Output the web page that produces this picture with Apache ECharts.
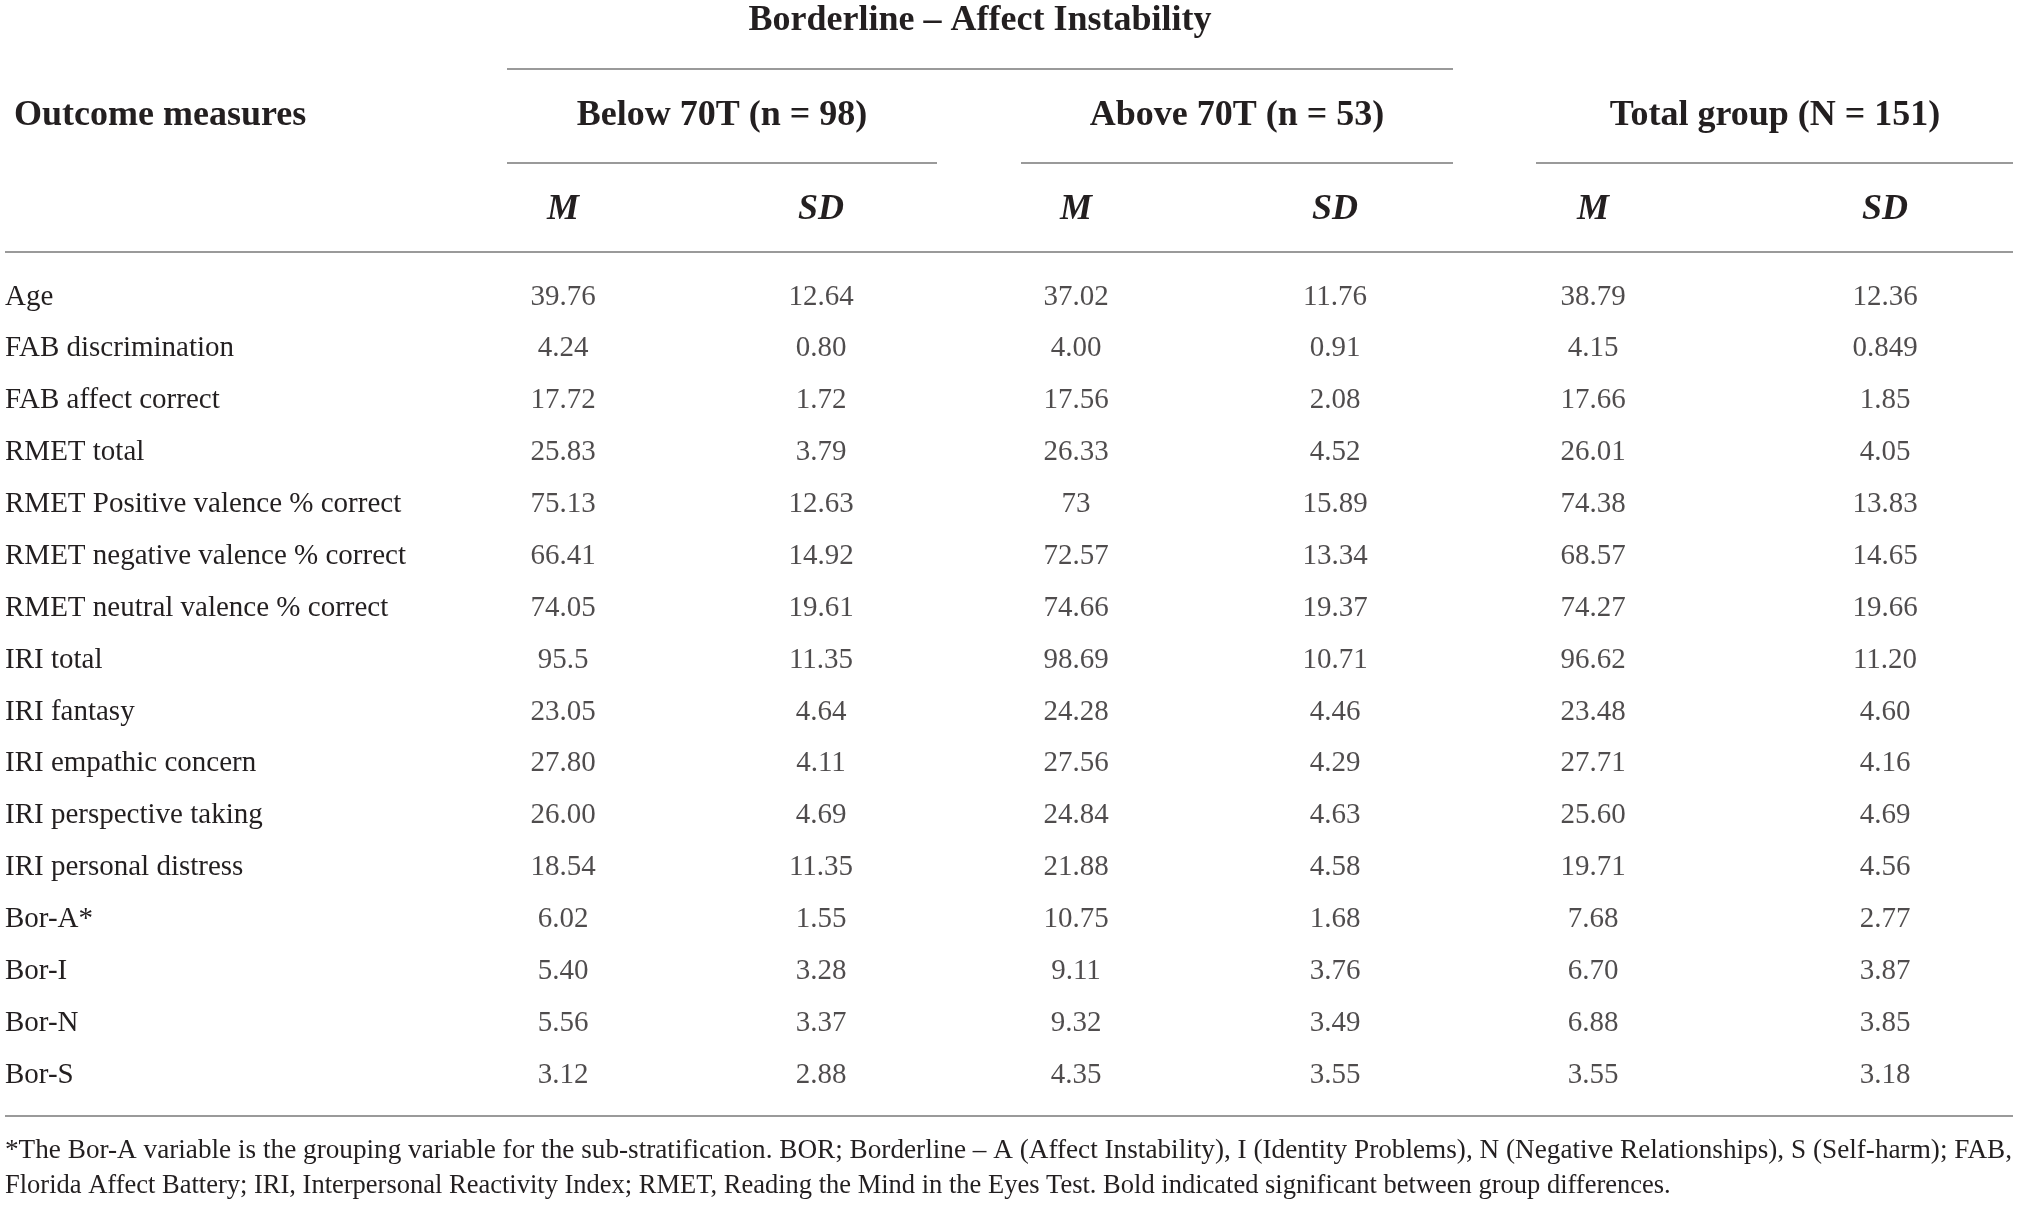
<!DOCTYPE html>
<html>
<head>
<meta charset="utf-8">
<title>Borderline – Affect Instability</title>
<script src="https://cdn.jsdelivr.net/npm/echarts@6.0.0/dist/echarts.min.js"></script>
<style>
  html, body { margin: 0; padding: 0; background: #fff; }
  #main { width: 2019px; height: 1206px; }
</style>
</head>
<body>
<div id="main"></div>
<script>
// table content
const rowNames = [
  'Age', 'FAB discrimination', 'FAB affect correct', 'RMET total',
  'RMET Positive valence % correct', 'RMET negative valence % correct',
  'RMET neutral valence % correct', 'IRI total', 'IRI fantasy',
  'IRI empathic concern', 'IRI perspective taking', 'IRI personal distress',
  'Bor-A*', 'Bor-I', 'Bor-N', 'Bor-S'
];
const statNames = ['M', 'SD'];
const groupNames = ['Below 70T (n = 98)', 'Above 70T (n = 53)', 'Total group (N = 151)'];

const belowM  = ['39.76', '4.24', '17.72', '25.83', '75.13', '66.41', '74.05', '95.5', '23.05', '27.80', '26.00', '18.54', '6.02', '5.40', '5.56', '3.12'];
const belowSD = ['12.64', '0.80', '1.72', '3.79', '12.63', '14.92', '19.61', '11.35', '4.64', '4.11', '4.69', '11.35', '1.55', '3.28', '3.37', '2.88'];
const aboveM  = ['37.02', '4.00', '17.56', '26.33', '73', '72.57', '74.66', '98.69', '24.28', '27.56', '24.84', '21.88', '10.75', '9.11', '9.32', '4.35'];
const aboveSD = ['11.76', '0.91', '2.08', '4.52', '15.89', '13.34', '19.37', '10.71', '4.46', '4.29', '4.63', '4.58', '1.68', '3.76', '3.49', '3.55'];
const totalM  = ['38.79', '4.15', '17.66', '26.01', '74.38', '68.57', '74.27', '96.62', '23.48', '27.71', '25.60', '19.71', '7.68', '6.70', '6.88', '3.55'];
const totalSD = ['12.36', '0.849', '1.85', '4.05', '13.83', '14.65', '19.66', '11.20', '4.60', '4.16', '4.69', '4.56', '2.77', '3.87', '3.85', '3.18'];

const title = 'Borderline – Affect Instability';
const stubHead = 'Outcome measures';
const footnote = [
  '*The Bor-A variable is the grouping variable for the sub-stratification. BOR; Borderline – A (Affect Instability), I (Identity Problems), N (Negative Relationships), S (Self-harm); FAB,',
  'Florida Affect Battery; IRI, Interpersonal Reactivity Index; RMET, Reading the Mind in the Eyes Test. Bold indicated significant between group differences.'
];

const FONT = '"Liberation Serif", "Times New Roman", serif';
const INK = '#231f20';
const RULE = '#9a9a9a';

const groupValues = [[belowM, belowSD], [aboveM, aboveSD], [totalM, totalSD]];
// one grid per column group, M column on the left edge, SD on the right edge
const gridBoxes = [[563, 258], [1076, 259], [1593, 292]];
const headerX = [722, 1237, 1775];

const grids = gridBoxes.map(b => ({ left: b[0], width: b[1], top: 271, height: 830 }));

const xAxes = gridBoxes.map((b, i) => ({
  type: 'category',
  gridIndex: i,
  position: 'top',
  data: statNames,
  boundaryGap: false,
  axisLine: { show: false },
  axisTick: { show: false },
  splitLine: { show: false },
  axisLabel: {
    margin: 61,
    verticalAlign: 'middle',
    fontFamily: FONT,
    fontSize: 36,
    fontWeight: 'bold',
    fontStyle: 'italic',
    color: INK
  }
}));

const yAxes = gridBoxes.map((b, i) => ({
  type: 'category',
  gridIndex: i,
  data: rowNames,
  inverse: true,
  boundaryGap: true,
  axisLine: { show: false },
  axisTick: { show: false },
  splitLine: { show: false },
  axisLabel: {
    show: i === 0,
    align: 'left',
    margin: b[0] - 5,
    fontFamily: FONT,
    fontSize: 29,
    color: INK
  }
}));

const series = [];
groupValues.forEach((pair, g) => {
  pair.forEach((vals, s) => {
    series.push({
      type: 'scatter',
      name: groupNames[g] + ' ' + statNames[s],
      xAxisIndex: g,
      yAxisIndex: g,
      symbolSize: 1,
      itemStyle: { color: 'rgba(0,0,0,0)' },
      silent: true,
      label: {
        show: true,
        position: 'inside',
        formatter: p => p.value[2],
        fontFamily: FONT,
        fontSize: 29,
        color: INK
      },
      data: rowNames.map((r, k) => [statNames[s], r, vals[k]])
    });
  });
});

const rule = (x1, y, x2) => ({
  type: 'line',
  silent: true,
  shape: { x1: x1, y1: y, x2: x2, y2: y },
  style: { stroke: RULE, lineWidth: 2 }
});

const headText = (txt, x, y, align) => ({
  type: 'text',
  silent: true,
  x: x,
  y: y,
  style: {
    text: txt,
    fill: INK,
    font: 'bold 36px ' + FONT,
    align: align,
    verticalAlign: 'middle'
  }
});

// first footnote line is justified to the full table width
const noteFont = '26.5px ' + FONT;
const measure = document.createElement('canvas').getContext('2d');
measure.font = noteFont;
const firstWidth = measure.measureText(footnote[0]).width;
const justify = firstWidth > 0 ? Math.min(1.06, 2007 / firstWidth) : 1;

const graphic = [
  headText(title, 980, 21, 'center'),
  rule(507, 69, 1453),
  headText(stubHead, 14, 116, 'left'),
  ...groupNames.map((n, i) => headText(n, headerX[i], 116, 'center')),
  rule(507, 163, 937),
  rule(1021, 163, 1453),
  rule(1536, 163, 2013),
  rule(5, 252, 2013),
  rule(5, 1116, 2013),
  ...footnote.map((line, i) => ({
    type: 'text',
    silent: true,
    x: 5,
    y: 1151 + i * 35,
    scaleX: i === 0 ? justify : 1,
    style: {
      text: line,
      fill: INK,
      font: noteFont,
      align: 'left',
      verticalAlign: 'middle'
    }
  }))
];

const chart = echarts.init(document.getElementById('main'), null, { renderer: 'canvas' });
chart.setOption({
  backgroundColor: '#ffffff',
  animation: false,
  grid: grids,
  xAxis: xAxes,
  yAxis: yAxes,
  series: series,
  graphic: graphic
});
</script>
</body>
</html>
